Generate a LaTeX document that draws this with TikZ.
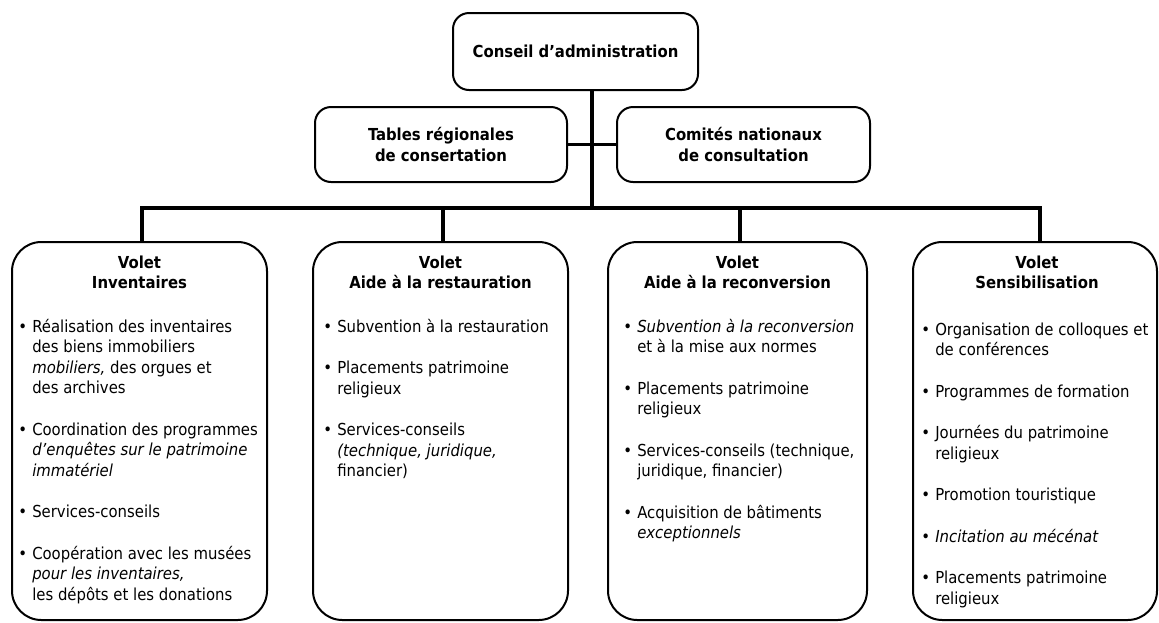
\documentclass[tikz,border=0pt]{standalone}
\usepackage{fontspec}
\setmainfont{DejaVuSansCondensed.ttf}[BoldFont=DejaVuSansCondensed-Bold.ttf,ItalicFont=DejaVuSansCondensed-Oblique.ttf,BoldItalicFont=DejaVuSansCondensed-BoldOblique.ttf]
\newcommand{\bul}{\makebox[10.5pt][l]{•}}
\newcommand{\igap}{\\[15.75pt]}
\begin{document}
\begin{tikzpicture}[x=0.75pt,y=-0.75pt,
  every node/.style={font=\fontsize{12.4}{15.375}\selectfont},
  topbox/.style={draw, line width=1.5pt, rounded corners=12pt, inner sep=0pt, align=center, font=\fontsize{12.4}{15.375}\selectfont\bfseries},
  volbox/.style={draw, line width=1.5pt, rounded corners=22pt, inner sep=0pt, minimum height=283.5pt},
  conn/.style={line width=2.6pt, line join=miter},
  hdr/.style={anchor=base, inner sep=0pt, font=\fontsize{12.4}{15.375}\selectfont\bfseries},
  lst/.style={anchor=base west, inner sep=0pt}]
\useasboundingbox (0,0) rectangle (1159,622);

% top level
\node[topbox, minimum width=183.75pt, minimum height=57.75pt] (conseil) at (575.5,51.5) {Conseil d{\char"27}administration};
\node[topbox, minimum width=189pt, minimum height=56.25pt] (tables) at (441,144.5) {Tables régionales\\de consertation};
\node[topbox, minimum width=189.75pt, minimum height=56.25pt] (comites) at (743.5,144.5) {Comités nationaux\\de consultation};

% volets
\node[volbox, minimum width=191.25pt] (b1) at (139.5,431) {};
\node[volbox, minimum width=191.25pt] (b2) at (440.5,431) {};
\node[volbox, minimum width=194.25pt] (b3) at (737.5,431) {};
\node[volbox, minimum width=183pt] (b4) at (1035,431) {};

% connectors
\coordinate (j0) at (592,208);
\coordinate (j1) at (142,208);
\coordinate (j2) at (443,208);
\coordinate (j3) at (740,208);
\coordinate (j4) at (1040,208);
\draw[conn] (conseil.south -| j0) -- (j0);
\draw[conn] (tables.east) -- (comites.west);
\draw[conn] (b1.north -| j1) -- (j1) -- (j4) -- (b4.north -| j4);
\draw[conn] (j2) -- (b2.north -| j2);
\draw[conn] (j3) -- (b3.north -| j3);

% headers
\node[hdr] (h1) at (139.5,268) {\begin{tabular}[t]{@{}c@{}}Volet\\Inventaires\end{tabular}};
\node[hdr] (h2) at (440.5,268) {\begin{tabular}[t]{@{}c@{}}Volet\\Aide à la restauration\end{tabular}};
\node[hdr] (h3) at (737.5,268) {\begin{tabular}[t]{@{}c@{}}Volet\\Aide à la reconversion\end{tabular}};
\node[hdr] (h4) at (1037,268) {\begin{tabular}[t]{@{}c@{}}Volet\\Sensibilisation\end{tabular}};

% lists
\node[lst] (l1) at (18,332) {\begin{tabular}[t]{@{}l@{}l@{}}
\bul & Réalisation des inventaires\\
 & des biens immobiliers\\
 & \textit{mobiliers,} des orgues et\\
 & des archives\igap
\bul & Coordination des programmes\\
 & \textit{d’enquêtes sur le patrimoine}\\
 & \textit{immatériel}\igap
\bul & Services-conseils\igap
\bul & Coopération avec les musées\\
 & \textit{pour les inventaires,}\\
 & les dépôts et les donations
\end{tabular}};

\node[lst] (l2) at (323,332) {\begin{tabular}[t]{@{}l@{}l@{}}
\bul & Subvention à la restauration\igap
\bul & Placements patrimoine\\
 & religieux\igap
\bul & Services-conseils\\
 & \textit{(technique, juridique,}\\
 & financier)
\end{tabular}};

\node[lst] (l3) at (623,332) {\begin{tabular}[t]{@{}l@{}l@{}}
\bul & \textit{Subvention à la reconversion}\\
 & et à la mise aux normes\igap
\bul & Placements patrimoine\\
 & religieux\igap
\bul & Services-conseils (technique,\\
 & juridique, financier)\igap
\bul & Acquisition de bâtiments\\
 & \textit{exceptionnels}
\end{tabular}};

\node[lst] (l4) at (921,335) {\begin{tabular}[t]{@{}l@{}l@{}}
\bul & Organisation de colloques et\\
 & de conférences\igap
\bul & Programmes de formation\igap
\bul & Journées du patrimoine\\
 & religieux\igap
\bul & Promotion touristique\igap
\bul & \textit{Incitation au mécénat}\igap
\bul & Placements patrimoine\\
 & religieux
\end{tabular}};
\end{tikzpicture}
\end{document}
